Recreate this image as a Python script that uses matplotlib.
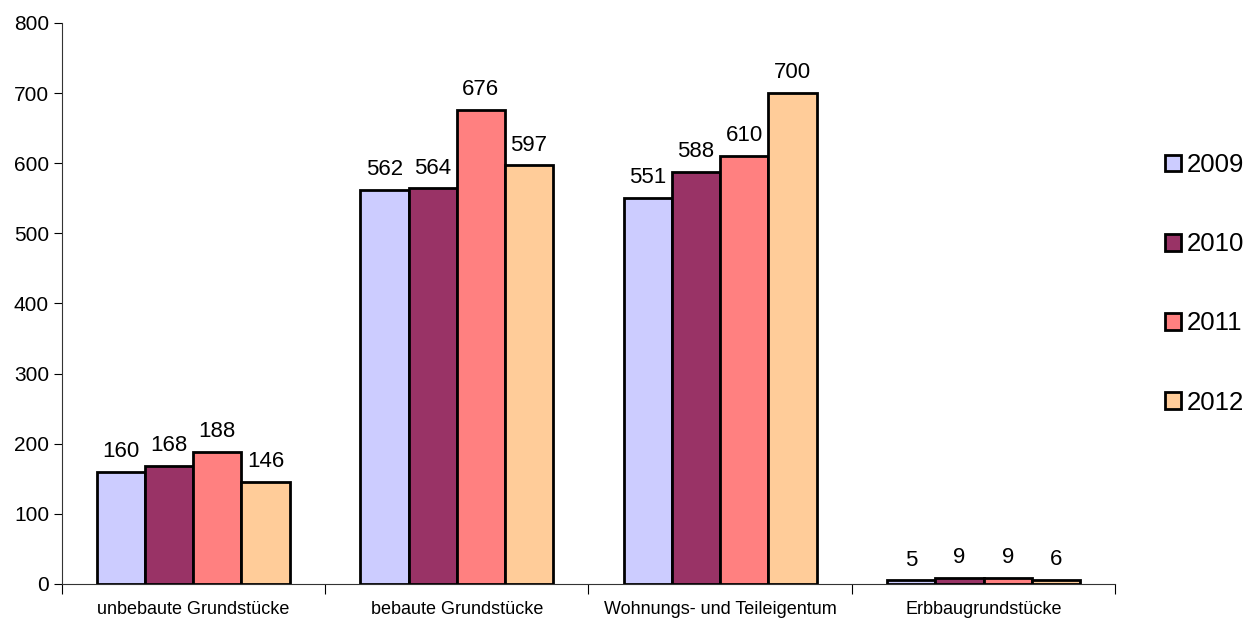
import numpy as np
import matplotlib.pyplot as plt

plt.rcParams["font.family"] = ["Liberation Sans", "DejaVu Sans"]

categories = ["unbebaute Grundstücke", "bebaute Grundstücke",
              "Wohnungs- und Teileigentum", "Erbbaugrundstücke"]
years = ["2009", "2010", "2011", "2012"]
values = {
    "2009": [160, 562, 551, 5],
    "2010": [168, 564, 588, 9],
    "2011": [188, 676, 610, 9],
    "2012": [146, 597, 700, 6],
}
colors = ["#CCCCFF", "#993366", "#FF8080", "#FFCC99"]

fig = plt.figure(figsize=(12.56, 6.21), dpi=100)
ax = fig.add_axes([0.049, 0.0596, 0.839, 0.9034])

x = np.arange(len(categories))
width = 0.183
for i, yr in enumerate(years):
    pos = x + (i - 1.5) * width
    bars = ax.bar(pos, values[yr], width, color=colors[i], edgecolor="black",
                  linewidth=2, label=yr, zorder=3)
    for b, v in zip(bars, values[yr]):
        ax.annotate(str(v), (b.get_x() + b.get_width() / 2, v),
                    xytext=(0, 7), textcoords="offset points",
                    ha="center", va="bottom", fontsize=16)

ax.set_xlim(-0.5, len(categories) - 0.5)
ax.set_ylim(0, 800)
ax.set_yticks(range(0, 801, 100))
ax.tick_params(axis="y", labelsize=15, length=6, pad=3, direction="out")
ax.set_xticks(np.arange(-0.5, len(categories), 1.0))
ax.set_xticklabels([])
ax.set_xticks(x, minor=True)
ax.set_xticklabels(categories, minor=True, fontsize=13)
ax.tick_params(axis="x", which="major", length=7, direction="out")
ax.tick_params(axis="x", which="minor", length=0, pad=12)
for s in ["top", "right"]:
    ax.spines[s].set_visible(False)
ax.spines["left"].set_color("#333333")
ax.spines["bottom"].set_color("#333333")

ax.legend(loc="center left", bbox_to_anchor=(1.035, 0.535), frameon=False,
          fontsize=18.5, labelspacing=2.15, handlelength=0.63,
          handleheight=0.63, handletextpad=0.2, borderpad=0)

fig.savefig("out.png", dpi=100)
